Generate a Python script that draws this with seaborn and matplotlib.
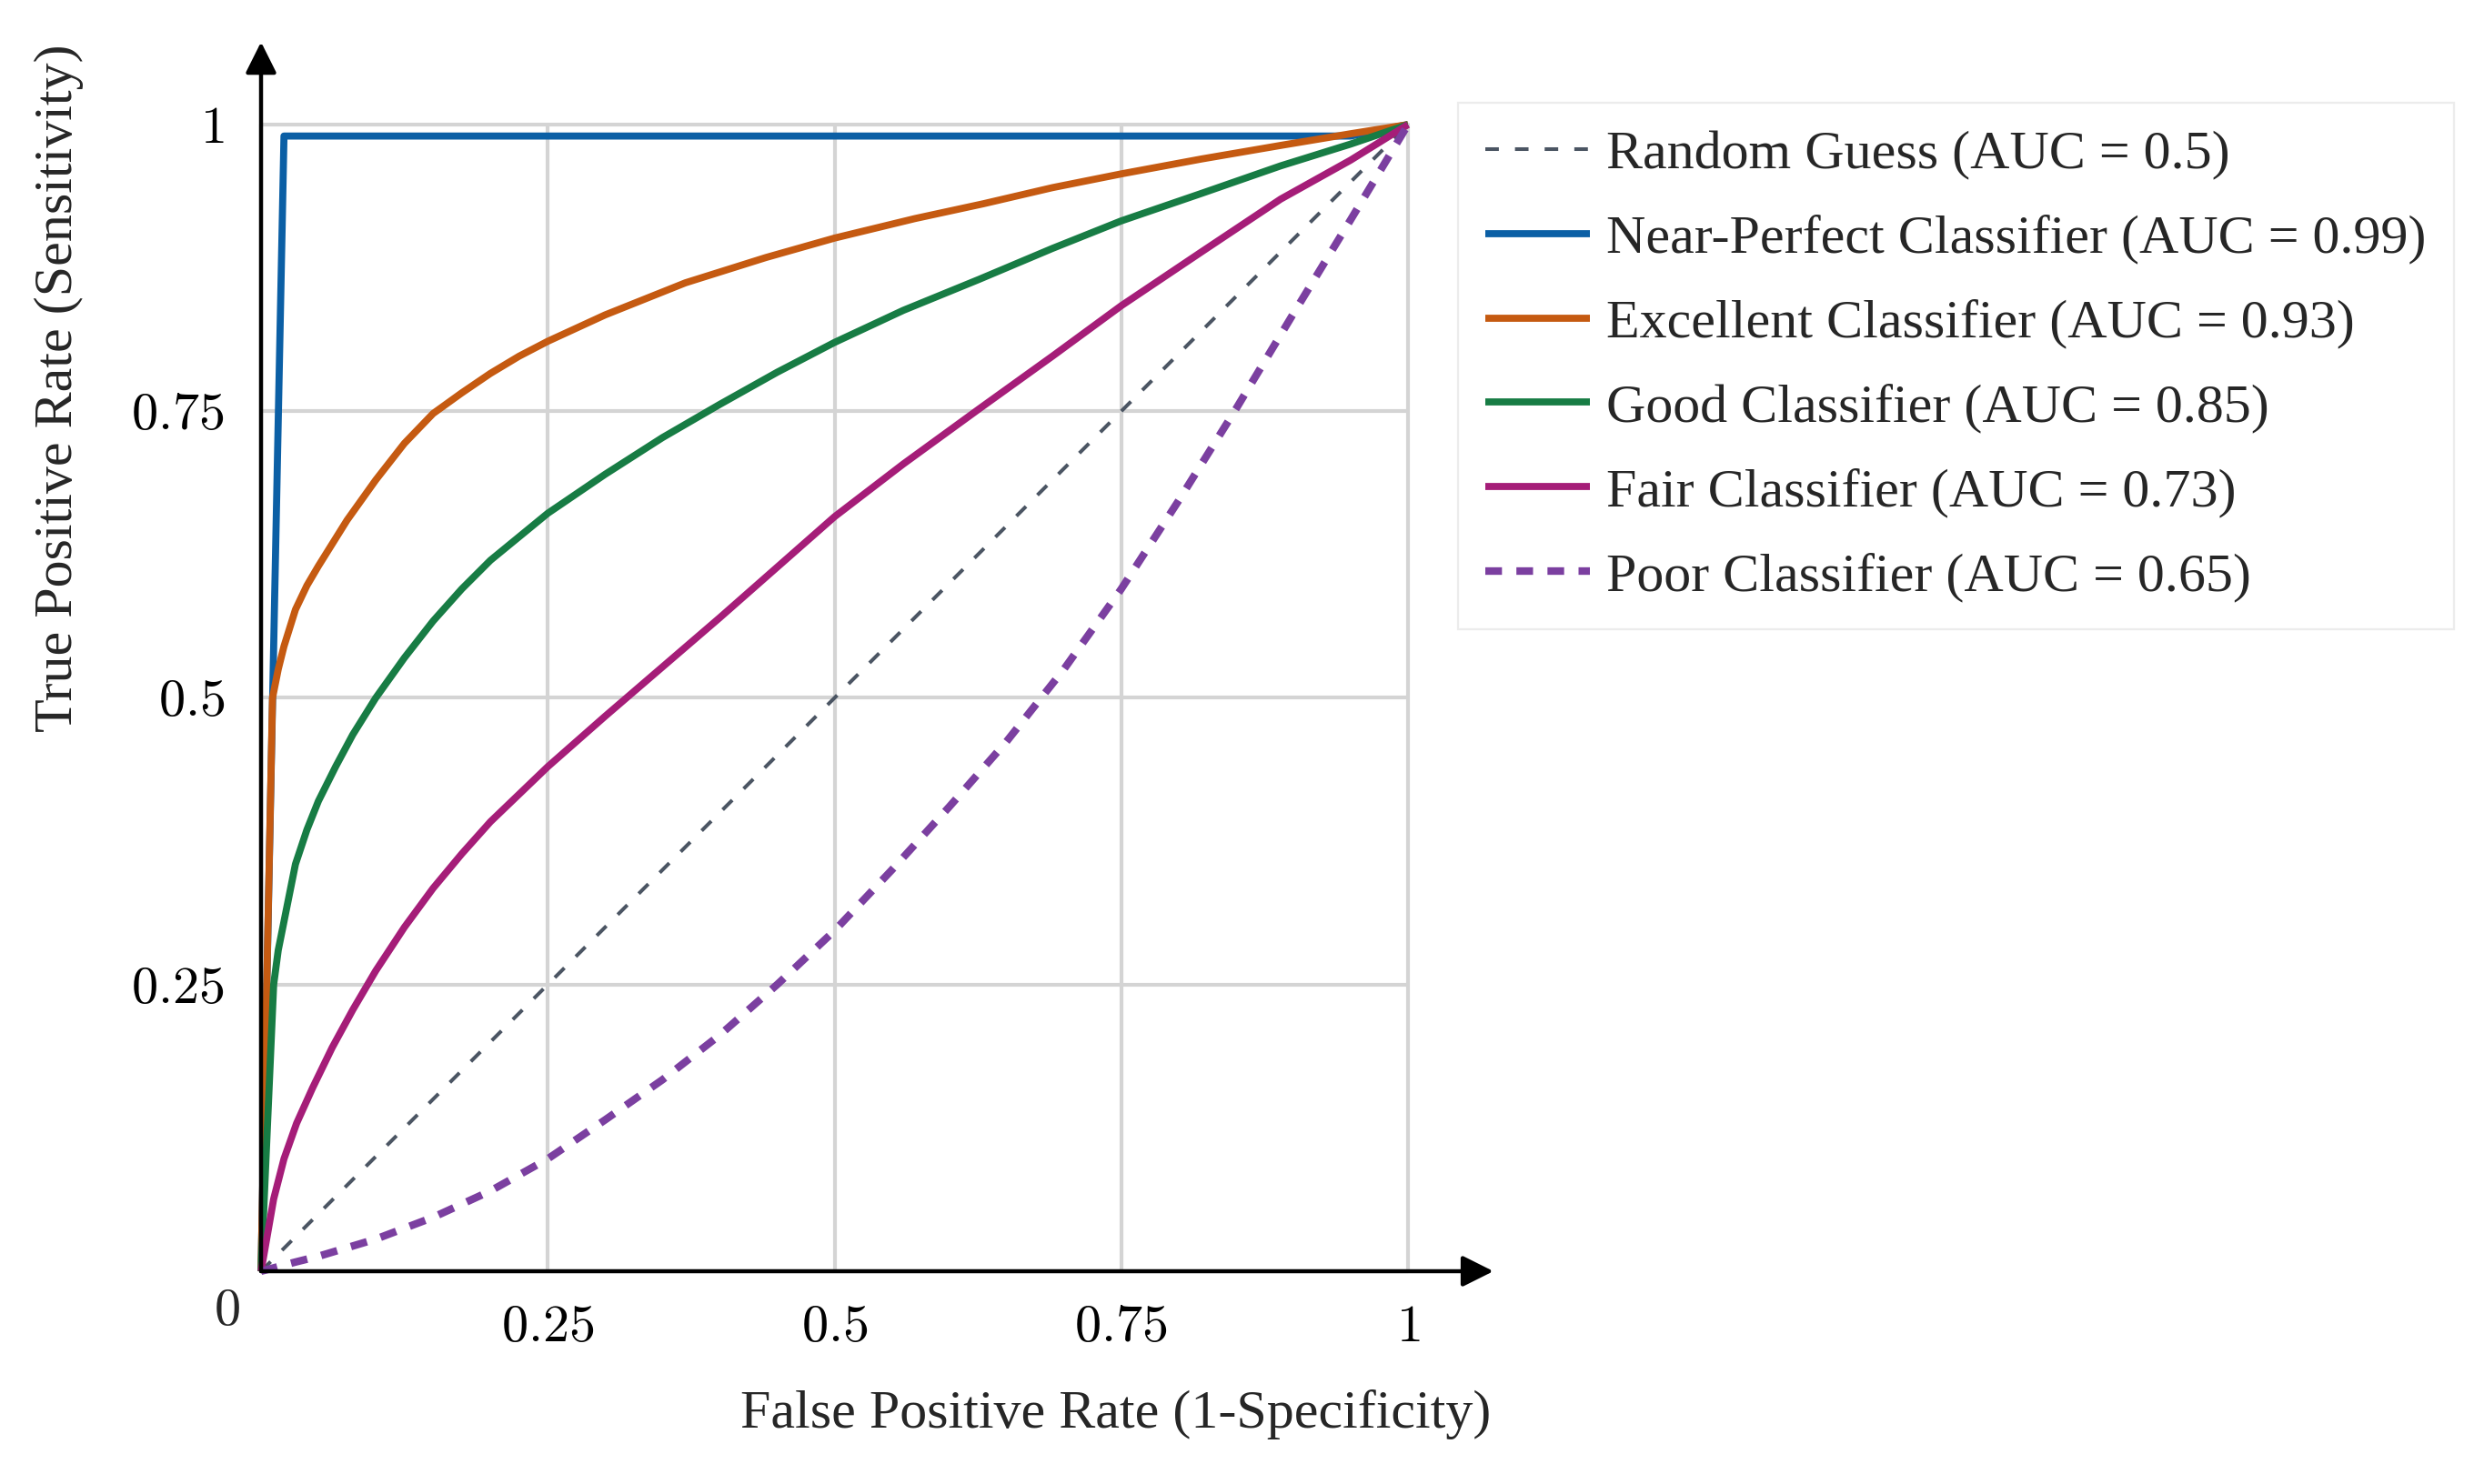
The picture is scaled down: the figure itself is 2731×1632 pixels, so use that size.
import matplotlib
matplotlib.use("Agg")
import matplotlib.pyplot as plt
import seaborn as sns

# ---------------- data ----------------
random_fpr = [0.0, 1.0]
random_tpr = [0.0, 1.0]

near_fpr = [0.0, 0.02, 0.95, 1.0]
near_tpr = [0.0, 0.99, 0.99, 1.0]

exc_fpr = [0.0, 0.01, 0.015, 0.02, 0.03, 0.04, 0.05, 0.075, 0.10, 0.125, 0.15, 0.175, 0.20, 0.225, 0.25,
           0.30, 0.37, 0.44, 0.50, 0.57, 0.63, 0.69, 0.75, 0.82, 0.89, 0.95, 1.0]
exc_tpr = [0.0, 0.50, 0.525, 0.545, 0.577, 0.598, 0.615, 0.655, 0.69, 0.722, 0.748, 0.766, 0.783, 0.798, 0.811,
           0.834, 0.862, 0.884, 0.901, 0.918, 0.931, 0.945, 0.957, 0.970, 0.982, 0.992, 1.0]

good_fpr = [0.0, 0.011, 0.015, 0.02, 0.03, 0.04, 0.05, 0.065, 0.08, 0.10, 0.125, 0.15, 0.175, 0.20, 0.25,
            0.30, 0.35, 0.40, 0.45, 0.50, 0.56, 0.626, 0.69, 0.75, 0.82, 0.889, 0.95, 1.0]
good_tpr = [0.0, 0.25, 0.28, 0.305, 0.355, 0.385, 0.41, 0.44, 0.468, 0.50, 0.535, 0.567, 0.595, 0.62, 0.661,
            0.695, 0.727, 0.756, 0.784, 0.81, 0.838, 0.865, 0.892, 0.916, 0.94, 0.964, 0.983, 1.0]

fair_fpr = [0.0, 0.011, 0.02, 0.031, 0.045, 0.062, 0.08, 0.10, 0.125, 0.15, 0.175, 0.20, 0.25, 0.30, 0.35,
            0.40, 0.45, 0.50, 0.56, 0.626, 0.69, 0.75, 0.82, 0.889, 0.95, 1.0]
fair_tpr = [0.0, 0.063, 0.098, 0.129, 0.16, 0.195, 0.228, 0.262, 0.30, 0.334, 0.364, 0.392, 0.44, 0.484, 0.527,
            0.57, 0.614, 0.658, 0.704, 0.752, 0.798, 0.842, 0.889, 0.935, 0.969, 1.0]

poor_fpr = [0.0, 0.03, 0.05, 0.10, 0.15, 0.20, 0.25, 0.30, 0.35, 0.40, 0.45, 0.50, 0.55, 0.60, 0.65,
            0.70, 0.75, 0.80, 0.85, 0.90, 0.95, 1.0]
poor_tpr = [0.0, 0.008, 0.013, 0.028, 0.047, 0.07, 0.098, 0.132, 0.167, 0.206, 0.25, 0.297, 0.35, 0.405, 0.462,
            0.525, 0.595, 0.672, 0.752, 0.835, 0.917, 1.0]

labels = [
    "Random Guess (AUC = 0.5)",
    "Near-Perfect Classifier (AUC = 0.99)",
    "Excellent Classifier (AUC = 0.93)",
    "Good Classifier (AUC = 0.85)",
    "Fair Classifier (AUC = 0.73)",
    "Poor Classifier (AUC = 0.65)",
]
tick_values = [0.0, 0.25, 0.5, 0.75, 1.0]
tick_labels = ["", "0.25", "0.5", "0.75", "1"]
origin_label = "0"
x_title = "False Positive Rate (1-Specificity)"
y_title = "True Positive Rate (Sensitivity)"

# ---------------- style ----------------
sns.set_style("white")
plt.rcParams["font.family"] = ["Liberation Serif", "DejaVu Serif"]
plt.rcParams["mathtext.fontset"] = "cm"

FS = 21      # tick labels (math font)
TFS = 21.6   # text font
DPI = 200
fig = plt.figure(figsize=(2731 / DPI, 1632 / DPI), dpi=DPI)
ax = fig.add_axes([287 / 2731, 1 - 1398 / 1632, 1261 / 2731, 1261 / 1632])

series = [
    (random_fpr, random_tpr, "#4b5563", 1.45, (0, (3.7, 4.4))),
    (near_fpr, near_tpr, "#0b5fa5", 2.8, "-"),
    (exc_fpr, exc_tpr, "#c55a11", 2.8, "-"),
    (good_fpr, good_tpr, "#177c44", 2.8, "-"),
    (fair_fpr, fair_tpr, "#a51d78", 2.8, "-"),
    (poor_fpr, poor_tpr, "#7b3fa0", 3.0, (0, (2.2, 1.9))),
]
for (xs, ys, col, lw, ls), lab in zip(series, labels):
    sns.lineplot(x=xs, y=ys, ax=ax, color=col, linewidth=lw, linestyle=ls,
                 label=lab, sort=False, estimator=None, clip_on=False,
                 solid_capstyle="butt", dash_capstyle="butt",
                 solid_joinstyle="round")

ax.set_xlim(0, 1)
ax.set_ylim(0, 1)
for s in ax.spines.values():
    s.set_visible(False)

ax.set_xticks(tick_values)
ax.set_yticks(tick_values)
ax.set_xticklabels([f"${t}$" if t else "" for t in tick_labels])
ax.set_yticklabels([f"${t}$" if t else "" for t in tick_labels])
ax.tick_params(axis="both", direction="inout", length=10.8, width=1.6,
               color="black", labelsize=FS, labelcolor="black")
ax.tick_params(axis="x", pad=8)
ax.tick_params(axis="y", pad=9)
ax.grid(True, color="#d4d4d4", linewidth=1.5)
ax.set_axisbelow(True)
for gl in ax.xaxis.get_gridlines() + ax.yaxis.get_gridlines():
    gl.set_clip_on(False)

# axis arrows
arrow_kw = dict(arrowstyle="-|>", color="black", lw=1.6, mutation_scale=26,
                shrinkA=0, shrinkB=0)
ax.annotate("", xy=(1.0745, 0), xytext=(0, 0), xycoords="axes fraction",
            textcoords="axes fraction", arrowprops=arrow_kw, zorder=5,
            annotation_clip=False)
ax.annotate("", xy=(0, 1.072), xytext=(0, 0), xycoords="axes fraction",
            textcoords="axes fraction", arrowprops=arrow_kw, zorder=5,
            annotation_clip=False)

ax.annotate(f"${origin_label}$", xy=(0, 0), xycoords="data",
            xytext=(-13.7, -16.2), textcoords="offset points",
            ha="center", va="center", fontsize=FS, annotation_clip=False)

ax.set_xlabel(x_title, fontsize=TFS, loc="right")
ax.xaxis.set_label_coords(1.072, -0.1364)
ax.xaxis.label.set_va("baseline")
ax.set_ylabel(y_title, fontsize=TFS, loc="top")
ax.yaxis.set_label_coords(-0.176, 1.0698)
ax.yaxis.label.set_va("center")

leg = ax.legend(loc="upper left", bbox_to_anchor=(1603 / 2731, 1 - 113 / 1632),
                bbox_transform=fig.transFigure, fontsize=TFS, frameon=True,
                fancybox=False, framealpha=1, edgecolor="#ececec",
                borderpad=0.5, labelspacing=0.63, handlelength=1.92,
                handletextpad=0.3, borderaxespad=0)
leg.get_frame().set_linewidth(0.8)

fig.savefig("out.png", dpi=DPI)
